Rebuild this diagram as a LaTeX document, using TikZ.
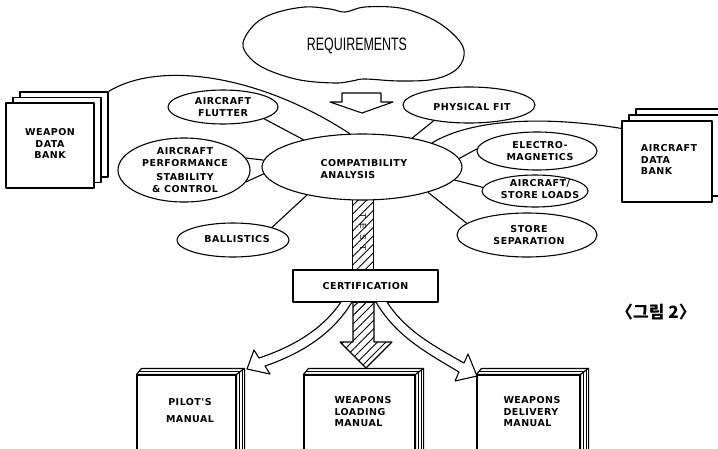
\documentclass[tikz,border=0pt]{standalone}
\usepackage{fontspec}
\usepackage{graphicx}
\setmainfont{DejaVu Sans}
\newfontfamily\lblfont{DejaVu Sans}[LetterSpace=5]
\newfontfamily\reqfont{Liberation Sans}
\newfontfamily\krfont{Noto Sans CJK KR}
\usetikzlibrary{shapes.geometric,patterns.meta,calc}
\tikzset{
  lbl/.style={font=\lblfont\bfseries\fontsize{9.5}{11.5}\selectfont, align=center, inner sep=0pt},
  ell/.style={ellipse, draw, line width=1.1pt, fill=white, inner sep=0pt},
  sheet/.style={rectangle, draw, line width=1.1pt, fill=white, minimum width=88pt, minimum height=85pt},
  book/.style={rectangle, draw, line width=1.1pt, fill=white, minimum height=80pt},
  hatch/.style={pattern={Lines[angle=45,distance=6pt,line width=0.9pt]}},
}
\newcommand\bookpages[1]{%
  \draw[fill=white] (#1.north west) -- ++(5,-6) -- ($(#1.north east)+(8,-6)$) -- (#1.north east) -- cycle;
  \draw[fill=white] (#1.north east) -- ++(8,-6) -- ++(0,85) -- (#1.south east) -- cycle;
  \draw[line width=0.6pt] ($(#1.north east)+(3,-2)$) -- ++(0,82) ($(#1.north east)+(5.5,-4)$) -- ++(0,82);
  \draw[line width=0.6pt] ($(#1.north west)+(2.5,-3)$) -- ($(#1.north east)+(4.5,-3)$);
}
\begin{document}
\begin{tikzpicture}[x=1pt,y=-1pt,line width=1.1pt,line join=round]
\clip (0,0) rectangle (718,448);
\fill[white] (0,0) rectangle (718,448);

% cloud
\draw[fill=white] plot[smooth cycle, tension=0.6] coordinates {
 (243,43) (255,24) (275,13) (305,7) (330,9) (345,12) (365,7) (400,8)
 (430,18) (452,33) (464,50) (458,68) (435,79) (400,81) (365,79) (352,81)
 (335,83) (300,80) (268,70) (250,58)};
\node[font=\reqfont\fontsize{18}{18}\selectfont, inner sep=0pt] (req) at (357,46) {\scalebox{0.69}[1]{REQUIREMENTS}};

% hollow arrow under cloud
\draw[fill=white] (342,93) -- (381,93) -- (381,102) -- (393,102) -- (362,113) -- (330,102) -- (342,102) -- cycle;

% ellipses
\node[ell, minimum width=200pt, minimum height=66pt,
  label={[lbl, align=left, xshift=2pt, yshift=-2pt]center:COMPATIBILITY\\ANALYSIS}] (compat) at (362,167) {};
\node[ell, minimum width=110pt, minimum height=34pt,
  label={[lbl]center:AIRCRAFT\\FLUTTER}] (flutter) at (223,107) {};
\node[ell, minimum width=132pt, minimum height=64pt,
  label={[lbl, xshift=1pt]center:AIRCRAFT\\PERFORMANCE\\[3pt]STABILITY\\\& CONTROL}] (perf) at (184,170) {};
\node[ell, minimum width=112pt, minimum height=34pt,
  label={[lbl, xshift=4pt, yshift=1pt]center:BALLISTICS}] (ballistics) at (233,240) {};
\node[ell, minimum width=132pt, minimum height=36pt,
  label={[lbl, xshift=3pt, yshift=-2pt]center:PHYSICAL FIT}] (physfit) at (469,105) {};
\node[ell, minimum width=120pt, minimum height=38pt,
  label={[lbl, xshift=3pt]center:ELECTRO-\\MAGNETICS}] (electro) at (537,151) {};
\node[ell, minimum width=106pt, minimum height=32pt,
  label={[lbl, xshift=5pt, yshift=2pt]center:AIRCRAFT/\\STORE LOADS}] (loads) at (535,191) {};
\node[ell, minimum width=140pt, minimum height=44pt,
  label={[lbl, xshift=2pt]center:STORE\\SEPARATION}] (storesep) at (527,235) {};

% data banks
\node[sheet] (wdb3) at (64,134.5) {};
\node[sheet] (wdb2) at (57,140) {};
\node[sheet, label={[lbl, yshift=2pt]center:WEAPON\\DATA\\BANK}] (wdb) at (50,145.5) {};
\node[sheet, minimum width=90pt, minimum height=81pt] (adb3) at (681,149.5) {};
\node[sheet, minimum width=90pt, minimum height=81pt] (adb2) at (674,155.5) {};
\node[sheet, minimum width=90pt, minimum height=81pt,
  label={[lbl, align=left, xshift=2pt, yshift=2pt]center:AIRCRAFT\\DATA\\BANK}] (adb) at (667,161.5) {};

% connectors
\draw (flutter.-16) -- (compat.155);
\draw (physfit.204) -- (compat.30);
\draw (electro.178) -- (compat.5);
\draw (loads.176) -- (compat.-8);
\draw (storesep.169) -- (compat.-21);
\draw (ballistics.18) -- (compat.207);
\draw (perf.11) -- (compat.176);
\draw (perf.-11) -- (compat.184);
\draw (wdb3.north east) .. controls (160,60) and (260,75) .. (compat.110);
\draw ([yshift=-8pt]adb.north west) .. controls (540,115) and (470,120) .. (compat.19);

% certification
\node[draw, fill=white, minimum width=145pt, minimum height=32pt, inner sep=0pt,
  font=\lblfont\bfseries\fontsize{9.5}{11}\selectfont] (cert) at (365.5,286) {CERTIFICATION};

% hatched test arrow
\fill[hatch] (352.5,200.5) rectangle (373.5,269.5);
\draw (352.5,200) -- (352.5,270) (373.5,200) -- (373.5,270);
\node[rotate=-90, font=\reqfont\fontsize{8.5}{8.5}\selectfont, inner sep=0pt] (test) at (363,232)
  {T\hspace{5pt}E\hspace{5pt}S\hspace{5pt}T};
\fill[hatch] (353,302.5) -- (353,342) -- (340,342) -- (366,368) -- (392,342) -- (374,342) -- (374,302.5) -- cycle;
\draw (353,302) -- (353,342) -- (340,342) -- (366,368) -- (392,342) -- (374,342) -- (374,302);

% curved hollow arrows
\draw[fill=white] (341,302) .. controls (322,330) and (292,347) .. (259,358) -- (254,350) -- (247,369)
  -- (270,374) -- (265,366) .. controls (300,354) and (332,335) .. (352,302);
\draw[fill=white] (376,302) .. controls (395,335) and (425,352) .. (459,372) -- (455,381) -- (477,376)
  -- (468,354) -- (464,363) .. controls (432,345) and (405,330) .. (387,302);

% manuals
\node[book, minimum width=99pt,
  label={[lbl, xshift=3.5pt, yshift=4.5pt]center:PILOT'S\\[5pt]MANUAL}] (pilot) at (186.5,415) {};
\bookpages{pilot}
\node[book, minimum width=111pt,
  label={[lbl, align=left, xshift=3.5pt, yshift=3pt]center:WEAPONS\\LOADING\\MANUAL}] (loading) at (359.5,415) {};
\bookpages{loading}
\node[book, minimum width=103pt,
  label={[lbl, align=left, xshift=3.5pt, yshift=3pt]center:WEAPONS\\DELIVERY\\MANUAL}] (delivery) at (528.5,415) {};
\bookpages{delivery}

% caption
\node[font=\krfont\bfseries\fontsize{17}{17}\selectfont, inner sep=0pt] (fig) at (656,312) {〈그림 2〉};
\end{tikzpicture}
\end{document}
